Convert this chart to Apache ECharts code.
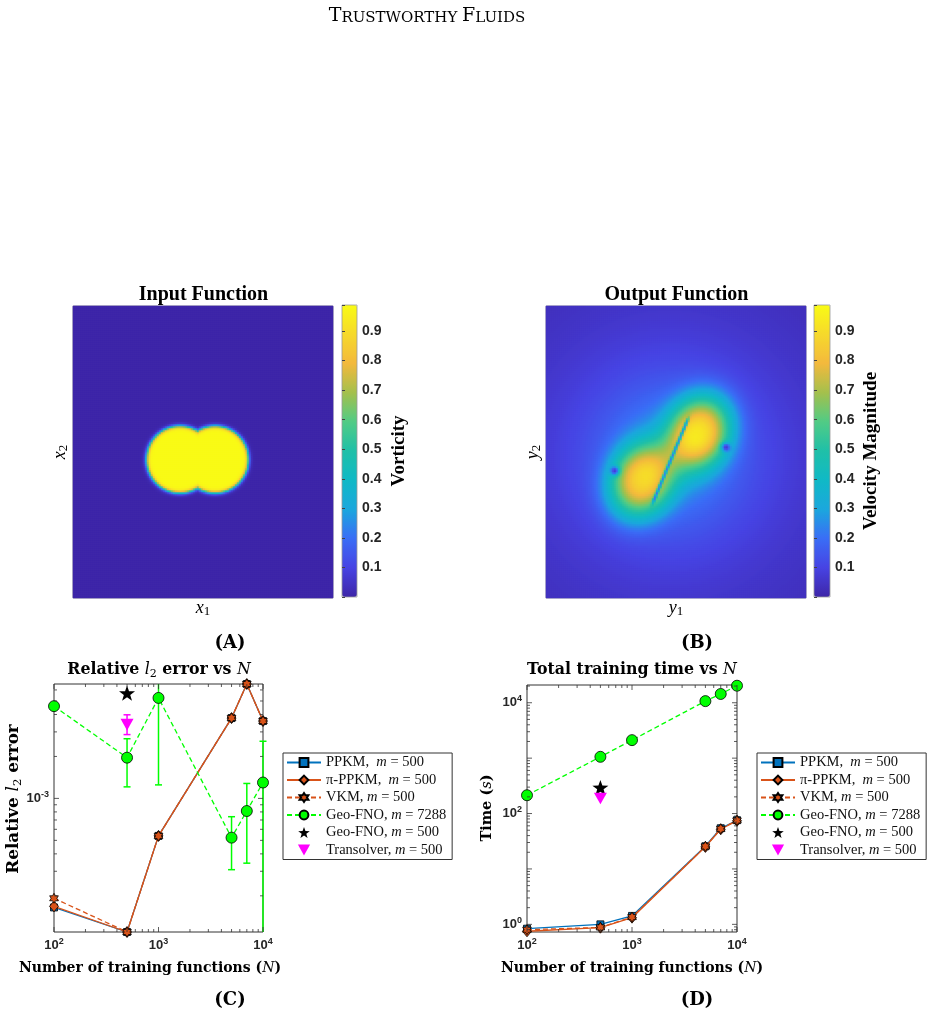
<!DOCTYPE html>
<html>
<head>
<meta charset="utf-8">
<script src="https://cdn.jsdelivr.net/npm/echarts@6/dist/echarts.min.js"></script>
<style>
  html, body { margin: 0; padding: 0; background: #fff; }
  #main { width: 936px; height: 1016px; }
</style>
</head>
<body>
<div id="main"></div>
<script>
// ---------- data ----------
const trainN = [100, 500, 1000, 5000, 7000, 10000];

// (C) relative l2 error
const errPPKM   = [1.65e-4, 1.10e-4, 5.38e-4, 3.77e-3, 6.62e-3, 3.59e-3];
const errPiPPKM = [1.68e-4, 1.10e-4, 5.38e-4, 3.77e-3, 6.62e-3, 3.59e-3];
const errVKM    = [1.92e-4, 1.10e-4, 5.38e-4, 3.77e-3, 6.62e-3, 3.59e-3];
const errGeo    = [4.59e-3, 1.96e-3, 5.26e-3, 5.23e-4, 8.12e-4, 1.30e-3];
const errGeoLo  = [4.59e-3, 1.21e-3, 1.25e-3, 3.08e-4, 3.43e-4, 1.0e-5];
const errGeoHi  = [4.59e-3, 2.68e-3, 9.0e-3, 7.39e-4, 1.28e-3, 2.57e-3];
const singleN = [500];
const errGeo500 = [5.69e-3];
const errTrans = [3.38e-3];
const errTransLo = [2.87e-3];
const errTransHi = [3.98e-3];

// (D) total training time (s)
const timePPKM   = [0.835, 1.0, 1.42, 25.7, 54.3, 75.8];
const timePiPPKM = [0.75, 0.87, 1.32, 25.0, 52.0, 74.0];
const timeVKM    = [0.80, 0.88, 1.35, 25.5, 53.0, 75.0];
const timeGeo    = [214, 1057, 2114, 10700, 14400, 20300];
const timeGeo500 = [295];
const timeTrans  = [187];

const legendNames = ['PPKM,  m = 500', 'π-PPKM,  m = 500', 'VKM, m = 500',
                     'Geo-FNO, m = 7288', 'Geo-FNO, m = 500', 'Transolver, m = 500'];

// colourbar
const cbarMax = 0.988;
const cbarTicks = [0.1, 0.2, 0.3, 0.4, 0.5, 0.6, 0.7, 0.8, 0.9];
const parula = ['#3e26a8', '#4743e3', '#3a6df6', '#1ba7dd', '#10b9c6', '#1fc0a8',
                '#51cb85', '#a4c04c', '#f3b93d', '#f6d92b', '#f9fb15'];

// (A) vorticity: two merged patches (centres / radii in domain units)
const inDiscX = [0.412, 0.547];
const inDiscY = [0.532, 0.532];
const inDiscR = [0.128, 0.128];
const inPeak = 0.985, inEdge = 0.004;

// (B) velocity magnitude: halo + two lobes, a thin gap and two stagnation dots
const outCentre = [0.478, 0.545];
const outHaloAmp = 0.30, outHaloR = 0.28;
const outLobeX = [0.367, 0.591];
const outLobeY = [0.451, 0.637];
const outLobeAmp = [0.65, 0.69];
const outLobeAlong = 0.11, outLobePerp = 0.09, outLobeAngle = 67;
const outGapX = [0.418, 0.540];
const outGapY = [0.381, 0.671];
const outGapW = 0.004, outGapDepth = 0.7;
const outDotX = [0.265, 0.693];
const outDotY = [0.489, 0.579];
const outDotR = 0.012;

// ---------- field grids ----------
const NX = 130, NY = 146, DOM_H = 1.12;
function buildField(fn) {
  const d = [];
  for (let j = 0; j < NY; j++)
    for (let i = 0; i < NX; i++)
      d.push([i, j, fn((i + 0.5) / NX, (j + 0.5) / NY * DOM_H)]);
  return d;
}
const inField = buildField((x, y) => {
  let v = 0;
  for (let k = 0; k < inDiscX.length; k++) {
    const d = Math.hypot(x - inDiscX[k], y - inDiscY[k]);
    v = Math.max(v, 1 / (1 + Math.exp((d - inDiscR[k]) / inEdge)));
  }
  return inPeak * v;
});
const ang = outLobeAngle * Math.PI / 180, ca = Math.cos(ang), sa = Math.sin(ang);
const outField = buildField((x, y) => {
  const r = Math.hypot(x - outCentre[0], y - outCentre[1]);
  let v = outHaloAmp / (1 + (r / outHaloR) * (r / outHaloR));
  for (let k = 0; k < outLobeX.length; k++) {
    const dx = x - outLobeX[k], dy = y - outLobeY[k];
    const a = (dx * ca + dy * sa) / outLobeAlong, p = (-dx * sa + dy * ca) / outLobePerp;
    v += outLobeAmp[k] * Math.exp(-0.5 * Math.pow(a * a + p * p, 1.25));
  }
  // thin gap between the lobes
  const gx = outGapX[1] - outGapX[0], gy = outGapY[1] - outGapY[0], gl = Math.hypot(gx, gy);
  const t = ((x - outGapX[0]) * gx + (y - outGapY[0]) * gy) / (gl * gl);
  const perp = Math.abs((x - outGapX[0]) * gy - (y - outGapY[0]) * gx) / gl;
  const out = t < 0 ? -t * gl : (t > 1 ? (t - 1) * gl : 0);
  v *= 1 - outGapDepth * Math.exp(-0.5 * (perp / outGapW) ** 2) * Math.exp(-0.5 * (out / 0.015) ** 2);
  for (let k = 0; k < outDotX.length; k++) {
    const d = Math.hypot(x - outDotX[k], y - outDotY[k]);
    v *= 1 - 0.85 * Math.exp(-0.5 * (d / outDotR) ** 2);
  }
  return Math.min(v, cbarMax);
});
const idxX = Array.from({length: NX}, (_, i) => i);
const idxY = Array.from({length: NY}, (_, i) => i);

// ---------- helpers ----------
const F_CM = "'DejaVu Serif', serif";
const F_TM = "'Liberation Serif', 'Times New Roman', serif";
const F_SANS = "'Liberation Sans', Arial, sans-serif";

function starPath(points, inner) {
  const pts = [];
  for (let i = 0; i < points * 2; i++) {
    const r = i % 2 ? inner : 1, a = Math.PI * i / points - Math.PI / 2;
    pts.push((r * Math.cos(a)).toFixed(3) + ',' + (r * Math.sin(a)).toFixed(3));
  }
  return 'path://M' + pts.join('L') + 'Z';
}
const HEXAGRAM = starPath(6, 0.577);
const PENTAGRAM = starPath(5, 0.40);
const TRI_DOWN = 'path://M0,0L10,0L5,9Z';

function logTicks(lo, hi) {
  const out = [];
  for (let k = Math.floor(Math.log10(lo)); k <= Math.ceil(Math.log10(hi)); k++)
    for (let m = 1; m <= 9; m++) {
      const v = m * Math.pow(10, k);
      if (v >= lo * 0.999 && v <= hi * 1.001) out.push([v, m === 1 ? 1 : 0]);
    }
  return out;
}
const allErr = [].concat(errPPKM, errPiPPKM, errVKM, errGeo, errGeo500, errTrans);
const allTime = [].concat(timePPKM, timePiPPKM, timeVKM, timeGeo, timeGeo500, timeTrans);
const errMin = Math.min(...allErr), errMax = Math.max(...allErr);
const timeMin = Math.min(...allTime) * 0.97, timeMax = Math.max(...allTime) * 1.03;

// tick marks on all four sides of a log-log box
function tickSeries(g, ticks, dir, ref) {
  return {
    type: 'custom', xAxisIndex: g, yAxisIndex: g, silent: true, z: 6,
    data: ticks.map(t => dir === 'x' ? [t[0], ref, t[1]] : [ref, t[0], t[1]]),
    renderItem(params, api) {
      const cs = params.coordSys, len = api.value(2) ? 5 : 3;
      const pt = api.coord([api.value(0), api.value(1)]);
      const st = {stroke: '#333', lineWidth: 0.8};
      if (dir === 'x') {
        const b = cs.y + cs.height;
        return {type: 'group', children: [
          {type: 'line', shape: {x1: pt[0], y1: b, x2: pt[0], y2: b - len}, style: st},
          {type: 'line', shape: {x1: pt[0], y1: cs.y, x2: pt[0], y2: cs.y + len}, style: st}]};
      }
      const r = cs.x + cs.width;
      return {type: 'group', children: [
        {type: 'line', shape: {x1: cs.x, y1: pt[1], x2: cs.x + len, y2: pt[1]}, style: st},
        {type: 'line', shape: {x1: r, y1: pt[1], x2: r - len, y2: pt[1]}, style: st}]};
    }
  };
}

function errorBars(g, xs, lo, hi, color) {
  return {
    type: 'custom', xAxisIndex: g, yAxisIndex: g, silent: true, z: 3,
    data: xs.map((x, i) => [x, lo[i], hi[i]]),
    renderItem(params, api) {
      const cs = params.coordSys, st = {stroke: color, lineWidth: 1.5};
      const x = api.coord([api.value(0), api.value(1)])[0];
      const yLo = api.coord([api.value(0), api.value(1)])[1];
      const yHi = api.coord([api.value(0), api.value(2)])[1];
      const top = cs.y, bot = cs.y + cs.height, c = 3.5;
      const kids = [{type: 'line', shape: {x1: x, y1: Math.min(yLo, bot), x2: x, y2: Math.max(yHi, top)}, style: st}];
      if (yHi >= top) kids.push({type: 'line', shape: {x1: x - c, y1: yHi, x2: x + c, y2: yHi}, style: st});
      if (yLo <= bot) kids.push({type: 'line', shape: {x1: x - c, y1: yLo, x2: x + c, y2: yLo}, style: st});
      return {type: 'group', children: kids};
    }
  };
}

const styles = [
  {symbol: 'rect', size: 7, color: '#0072BD', dash: false},
  {symbol: 'diamond', size: [9, 11], color: '#D95319', dash: false},
  {symbol: HEXAGRAM, size: 10, color: '#D95319', dash: true},
  {symbol: 'circle', size: 11, color: '#00FF00', dash: true}
];
function lineSeries(k, g, ys, z) {
  const s = styles[k];
  return {
    name: legendNames[k], type: 'line', xAxisIndex: g, yAxisIndex: g, z,
    data: trainN.map((n, i) => [n, ys[i]]), clip: false,
    symbol: s.symbol, symbolSize: s.size, symbolKeepAspect: true, showSymbol: true,
    lineStyle: {color: s.color, width: 1.3, type: s.dash ? [5, 3] : 'solid'},
    itemStyle: {color: s.color, borderColor: '#000', borderWidth: 0.8}
  };
}
function pointSeries(k, g, ys, z) {
  const star = k === 4;
  return {
    name: legendNames[k], type: 'scatter', xAxisIndex: g, yAxisIndex: g, z,
    data: singleN.map((n, i) => [n, ys[i]]),
    symbol: star ? PENTAGRAM : TRI_DOWN, symbolSize: star ? 16 : 13, symbolKeepAspect: true,
    itemStyle: {color: star ? '#000' : '#FF00FF', opacity: 1}
  };
}

function powLabel(showEven) {
  return v => {
    const e = Math.log10(v), r = Math.round(e);
    if (Math.abs(e - r) > 1e-6) return '';
    if (showEven && r % 2 !== 0) return '';
    return '{b|10}{s|' + (r < 0 ? '-' : '') + Math.abs(r) + '}';
  };
}
const powRich = {
  b: {fontFamily: F_SANS, fontWeight: 'bold', fontSize: 13, color: '#262626'},
  s: {fontFamily: F_SANS, fontWeight: 'bold', fontSize: 9, color: '#262626', padding: [0, 0, 8, 0]}
};
function logAxis(g, min, max, showEven) {
  return {
    type: 'log', logBase: 10, gridIndex: g, min, max,
    axisLine: {show: false}, axisTick: {show: false}, splitLine: {show: false}, minorTick: {show: false},
    axisLabel: {formatter: powLabel(showEven), rich: powRich, margin: 5, showMinLabel: true, showMaxLabel: true}
  };
}
function mapAxis(g, data) {
  return {type: 'category', gridIndex: g, data, show: false, boundaryGap: true};
}
function barY(g) {
  return {
    type: 'value', gridIndex: g, min: 0, max: cbarMax, interval: 0.1, position: 'right', z: 8,
    axisLine: {show: false}, splitLine: {show: false},
    axisTick: {show: true, inside: false, length: 3, lineStyle: {color: '#444'}},
    axisLabel: {margin: 5, fontFamily: F_SANS, fontWeight: 'bold', fontSize: 14, color: '#262626',
      formatter: v => cbarTicks.some(t => Math.abs(t - v) < 1e-6) ? v.toFixed(1) : ''}
  };
}

function legend(left) {
  return {
    left, top: 753, orient: 'vertical', selectedMode: false,
    data: legendNames, itemWidth: 34, itemHeight: 11, itemGap: 2.5,
    padding: [2, 6, 2, 3], borderColor: '#333', borderWidth: 1, backgroundColor: '#fff',
    formatter: name => {
      const p = name.split('m = ');
      return '{t|' + p[0] + '}{i|m}{t| = ' + p[1] + '}';
    },
    textStyle: {
      rich: {
        t: {fontFamily: F_TM, fontSize: 14.5, color: '#111'},
        i: {fontFamily: F_TM, fontSize: 14.5, fontStyle: 'italic', color: '#111'}
      }
    }
  };
}

function txt(x, y, text, rich, rot) {
  return {type: 'text', x, y, rotation: rot ? Math.PI / 2 : 0, silent: true,
    style: {text, rich, align: 'center', verticalAlign: 'middle'}};
}
function cmRich(size) {
  return {
    b: {fontFamily: F_CM, fontWeight: 'bold', fontSize: size, color: '#111'},
    i: {fontFamily: F_CM, fontStyle: 'italic', fontSize: size, color: '#111'},
    sub: {fontFamily: F_CM, fontSize: size * 0.7, color: '#111', padding: [size * 0.5, 0, 0, 0]}
  };
}
const tmItal = {
  i: {fontFamily: F_TM, fontStyle: 'italic', fontSize: 18, color: '#111'},
  sub: {fontFamily: F_TM, fontSize: 13, color: '#111', padding: [8, 0, 0, 0]}
};
const tmBold = {
  t: {fontFamily: F_TM, fontWeight: 'bold', fontSize: 20, color: '#000'},
  c: {fontFamily: F_TM, fontWeight: 'bold', fontSize: 19, color: '#000'}
};
const panelRich = {p: {fontFamily: F_CM, fontWeight: 'bold', fontSize: 18, color: '#111'}};
const headRich = {
  big: {fontFamily: F_CM, fontSize: 19, color: '#222', verticalAlign: 'bottom'},
  sm: {fontFamily: F_CM, fontSize: 15, color: '#222', verticalAlign: 'bottom'}
};

// ---------- chart ----------
const chart = echarts.init(document.getElementById('main'));
const mapGrid = {show: true, borderColor: '#888', borderWidth: 0.8, backgroundColor: 'transparent'};
const barGrid = {show: true, borderColor: '#999', borderWidth: 0.8, z: 8};
const boxGrid = {show: true, borderColor: '#333', borderWidth: 1};

chart.setOption({
  animation: false,
  backgroundColor: '#fff',
  grid: [
    Object.assign({left: 73, top: 306, width: 260, height: 292}, mapGrid),
    Object.assign({left: 342, top: 305, width: 15, height: 292}, barGrid),
    Object.assign({left: 546, top: 306, width: 260, height: 292}, mapGrid),
    Object.assign({left: 814, top: 305, width: 16, height: 292}, barGrid),
    Object.assign({left: 54, top: 684, width: 209, height: 248}, boxGrid),
    Object.assign({left: 527, top: 685, width: 210, height: 247}, boxGrid)
  ],
  xAxis: [
    mapAxis(0, idxX),
    {type: 'value', gridIndex: 1, show: false},
    mapAxis(2, idxX),
    {type: 'value', gridIndex: 3, show: false},
    logAxis(4, trainN[0], trainN[trainN.length - 1], false),
    logAxis(5, trainN[0], trainN[trainN.length - 1], false)
  ],
  yAxis: [
    mapAxis(0, idxY),
    barY(1),
    mapAxis(2, idxY),
    barY(3),
    logAxis(4, errMin, errMax, false),
    logAxis(5, timeMin, timeMax, true)
  ],
  visualMap: [0, 1].map((si, k) => ({
    type: 'continuous', seriesIndex: si, dimension: 2, min: 0, max: cbarMax,
    show: true, calculable: false, hoverLink: false, padding: 0,
    left: k ? 814 : 342, top: 305, itemWidth: k ? 16 : 15, itemHeight: 292,
    text: null, textStyle: {fontSize: 0},
    inRange: {color: parula}
  })),
  legend: [legend(283), legend(757)],
  series: [
    {type: 'heatmap', xAxisIndex: 0, yAxisIndex: 0, data: inField, progressive: 0, silent: true, emphasis: {disabled: true}},
    {type: 'heatmap', xAxisIndex: 2, yAxisIndex: 2, data: outField, progressive: 0, silent: true, emphasis: {disabled: true}},

    tickSeries(4, logTicks(trainN[0], trainN[trainN.length - 1]), 'x', errMin),
    tickSeries(4, logTicks(errMin, errMax), 'y', trainN[0]),
    lineSeries(0, 4, errPPKM, 4),
    lineSeries(1, 4, errPiPPKM, 5),
    lineSeries(2, 4, errVKM, 5),
    errorBars(4, trainN, errGeoLo, errGeoHi, '#00FF00'),
    lineSeries(3, 4, errGeo, 5),
    pointSeries(4, 4, errGeo500, 5),
    errorBars(4, singleN, errTransLo, errTransHi, '#FF00FF'),
    pointSeries(5, 4, errTrans, 5),

    tickSeries(5, logTicks(trainN[0], trainN[trainN.length - 1]), 'x', timeMin),
    tickSeries(5, logTicks(timeMin, timeMax), 'y', trainN[0]),
    lineSeries(0, 5, timePPKM, 4),
    lineSeries(1, 5, timePiPPKM, 5),
    lineSeries(2, 5, timeVKM, 5),
    lineSeries(3, 5, timeGeo, 5),
    pointSeries(4, 5, timeGeo500, 5),
    pointSeries(5, 5, timeTrans, 5)
  ],
  graphic: [
    txt(427, 16, '{big|T}{sm|RUSTWORTHY }{big|F}{sm|LUIDS}', headRich),
    txt(203.5, 295, '{t|Input Function}', tmBold),
    txt(676.5, 295, '{t|Output Function}', tmBold),
    txt(203, 608, '{i|x}{sub|1}', tmItal),
    txt(60, 452, '{i|x}{sub|2}', tmItal, true),
    txt(676, 608, '{i|y}{sub|1}', tmItal),
    txt(533, 452, '{i|y}{sub|2}', tmItal, true),
    txt(399, 451, '{c|Vorticity}', tmBold, true),
    txt(871, 451, '{c|Velocity Magnitude}', tmBold, true),
    txt(230, 643, '{p|(A)}', panelRich),
    txt(697, 643, '{p|(B)}', panelRich),
    txt(159, 670, '{b|Relative }{i|l}{sub|2}{b| error vs }{i|N}', cmRich(15.8)),
    txt(632, 670, '{b|Total training time vs }{i|N}', cmRich(15.8)),
    txt(150, 968, '{b|Number of training functions (}{i|N}{b|)}', cmRich(14)),
    txt(632, 968, '{b|Number of training functions (}{i|N}{b|)}', cmRich(14)),
    txt(14, 799, '{b|Relative }{i|l}{sub|2}{b| error}', cmRich(16.8), true),
    txt(487, 808, '{b|Time (}{i|s}{b|)}', cmRich(14.5), true),
    txt(230, 1000, '{p|(C)}', panelRich),
    txt(697, 1000, '{p|(D)}', panelRich)
  ]
});
</script>
</body>
</html>
